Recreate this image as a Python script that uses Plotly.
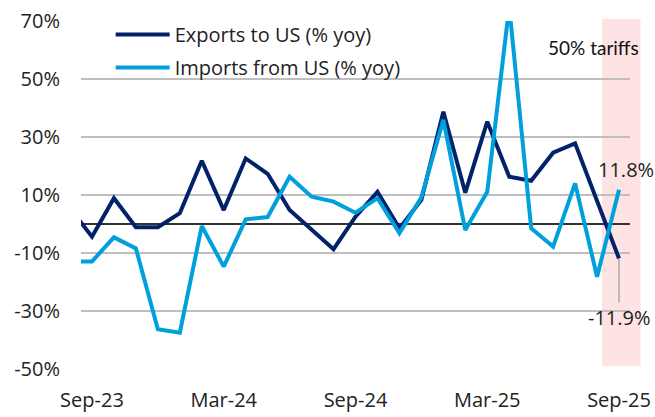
import plotly.graph_objects as go

# ---- data ----
months = ["Aug-23", "Sep-23", "Oct-23", "Nov-23", "Dec-23", "Jan-24", "Feb-24", "Mar-24",
          "Apr-24", "May-24", "Jun-24", "Jul-24", "Aug-24", "Sep-24", "Oct-24", "Nov-24",
          "Dec-24", "Jan-25", "Feb-25", "Mar-25", "Apr-25", "May-25", "Jun-25", "Jul-25",
          "Aug-25", "Sep-25"]
exports_us = [5.4, -4.4, 8.9, -1.1, -1.1, 3.7, 21.8, 4.8, 22.6, 17.3, 4.8, -2.0, -8.7, 2.5,
              11.1, -1.5, 8.3, 38.7, 10.8, 35.3, 16.3, 14.9, 24.6, 27.8, 8.0, -11.9]
imports_us = [-13.0, -12.9, -4.6, -8.4, -36.3, -37.5, -0.7, -14.7, 1.6, 2.4, 16.3, 9.4, 7.7,
              3.9, 8.9, -3.2, 9.2, 35.9, -2.1, 11.1, 75.0, -1.5, -7.8, 14.0, -18.2, 11.8]
tick_labels = ["Sep-23", "Mar-24", "Sep-24", "Mar-25", "Sep-25"]
y_ticks = [-50, -30, -10, 10, 30, 50, 70]

x_idx = list(range(-1, len(months) - 1))  # Sep-23 -> 0
tick_pos = [x_idx[months.index(m)] for m in tick_labels]

NAVY = "#012169"
LIGHT = "#00A0DC"
FONT = "Open Sans"
TXT = "#222222"

xmin, xmax = -0.5, 24.5
ymin, ymax = -50, 70


def xpaper(v):
    return (v - xmin) / (xmax - xmin)


def ypaper(v):
    return (v - ymin) / (ymax - ymin)


fig = go.Figure()
fig.add_trace(go.Scatter(x=x_idx, y=exports_us, mode="lines", name="Exports to US (% yoy)",
                         line=dict(color=NAVY, width=4), legendgroup="a"))
fig.add_trace(go.Scatter(x=x_idx, y=imports_us, mode="lines", name="Imports from US (% yoy)",
                         line=dict(color=LIGHT, width=4), legendgroup="b"))

# tariff band
fig.add_shape(type="rect", xref="paper", yref="paper",
              x0=xpaper(23.23), x1=xpaper(24.98), y0=ypaper(-49), y1=ypaper(70.7),
              fillcolor="#FDE3E3", line=dict(width=0), layer="below")

last = len(months) - 1
fig.add_annotation(x=x_idx[last], y=imports_us[last], text=f"{imports_us[last]:.1f}%",
                   showarrow=False, xshift=7, yshift=20,
                   font=dict(family=FONT, size=20, color=TXT))
fig.add_annotation(x=x_idx[last], y=exports_us[last], text=f"{exports_us[last]:.1f}%",
                   showarrow=True, arrowhead=0, arrowwidth=1.2, arrowcolor="#9A9A9A",
                   ax=0, ay=59, font=dict(family=FONT, size=20, color=TXT))
fig.add_annotation(xref="paper", x=xpaper(24.98), y=60.7, yref="y", xanchor="right",
                   text="50% tariffs", showarrow=False,
                   font=dict(family="Lato", size=19, color="#111111"))

fig.update_xaxes(range=[xmin, xmax], tickvals=tick_pos, ticktext=tick_labels,
                 showgrid=False, zeroline=False, showline=False, ticks="",
                 ticklabelstandoff=17, automargin=False,
                 tickfont=dict(family=FONT, size=20, color=TXT))
fig.update_yaxes(range=[ymin, ymax], tickvals=y_ticks, ticktext=[f"{v}%" for v in y_ticks],
                 showgrid=True, gridcolor="#BFBFBF", gridwidth=1.6,
                 zeroline=True, zerolinecolor="#333333", zerolinewidth=1.6,
                 showline=False, ticks="", ticklabelstandoff=20, automargin=False,
                 tickfont=dict(family=FONT, size=20, color=TXT))

fig.update_layout(
    width=655, height=417,
    margin=dict(l=81, r=25, t=21, b=48),
    paper_bgcolor="white", plot_bgcolor="rgba(0,0,0,0)",
    showlegend=True,
    legend=dict(x=xpaper(0.85), y=ypaper(72.1), xanchor="left", yanchor="top",
                bgcolor="rgba(0,0,0,0)", itemwidth=54, tracegroupgap=4,
                font=dict(family=FONT, size=20, color=TXT)),
)

fig.write_html("out.html")
